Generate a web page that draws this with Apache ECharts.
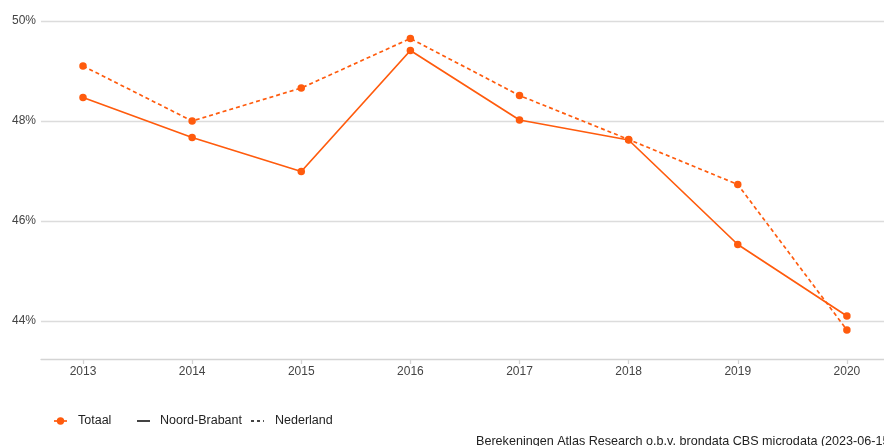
<!DOCTYPE html>
<html>
<head>
<meta charset="utf-8">
<script src="https://cdn.jsdelivr.net/npm/echarts@6/dist/echarts.min.js"></script>
<style>
  html, body { margin: 0; padding: 0; background: #fff; }
  #chart { width: 884px; height: 446px; }
</style>
</head>
<body>
<div id="chart"></div>
<script>
// Share (%) per year, Totaal, for Noord-Brabant and Nederland
const years = [2013, 2014, 2015, 2016, 2017, 2018, 2019, 2020];
const noordBrabant = [48.47, 47.67, 46.99, 49.41, 48.02, 47.62, 45.53, 44.10];
const nederland = [49.10, 48.00, 48.66, 49.65, 48.51, 47.63, 46.73, 43.82];
const yTicks = [44, 46, 48, 50];
const caption = 'Berekeningen Atlas Research o.b.v. brondata CBS microdata (2023-06-15)';

const ORANGE = '#ff5b0d';
const FONT = '"Liberation Sans", Arial, sans-serif';

const pairs = vals => years.map((y, i) => [y, vals[i]]);

const chart = echarts.init(document.getElementById('chart'), null, { renderer: 'canvas' });

chart.setOption({
  animation: false,
  backgroundColor: '#ffffff',
  textStyle: { fontFamily: FONT },
  grid: { left: 41, right: 0, top: 1, bottom: 87, containLabel: false },
  xAxis: {
    type: 'value',
    min: 2012.615,
    max: 2020.34,
    axisLine: { show: true, lineStyle: { color: '#d4d4d4', width: 1.3 } },
    axisTick: { show: true, length: 5, customValues: years, lineStyle: { color: '#d4d4d4', width: 1.3 } },
    axisLabel: { customValues: years, color: '#444', fontSize: 12, fontFamily: FONT, margin: 7, formatter: v => String(v) },
    splitLine: { show: false }
  },
  yAxis: {
    type: 'value',
    min: 43.24,
    max: 50.4,
    axisLine: { show: false },
    axisTick: { show: false, customValues: yTicks },
    axisLabel: { customValues: yTicks, color: '#444', fontSize: 12, fontFamily: FONT, margin: 5, formatter: v => v + '%' },
    splitLine: { show: true, lineStyle: { color: '#dcdcdc', width: 1.3 } }
  },
  series: [
    {
      name: 'Noord-Brabant',
      type: 'line',
      data: pairs(noordBrabant),
      symbol: 'circle',
      symbolSize: 7.5,
      itemStyle: { color: ORANGE },
      lineStyle: { color: ORANGE, width: 1.7, type: 'solid' },
      z: 3
    },
    {
      name: 'Nederland',
      type: 'line',
      data: pairs(nederland),
      symbol: 'circle',
      symbolSize: 7.5,
      itemStyle: { color: ORANGE },
      lineStyle: { color: ORANGE, width: 1.7, type: [4, 3] },
      z: 2
    }
  ],
  graphic: [
    // legend: colour key
    { type: 'line', shape: { x1: 54, y1: 421, x2: 67, y2: 421 }, style: { stroke: ORANGE, lineWidth: 1.7 } },
    { type: 'circle', shape: { cx: 60.5, cy: 421, r: 3.7 }, style: { fill: ORANGE } },
    { type: 'text', left: 78, top: 414, style: { text: 'Totaal', fill: '#222', font: '12.5px ' + FONT } },
    // legend: line type key
    { type: 'line', shape: { x1: 137, y1: 421, x2: 150, y2: 421 }, style: { stroke: '#222', lineWidth: 1.7 } },
    { type: 'text', left: 160, top: 414, style: { text: 'Noord-Brabant', fill: '#222', font: '12.5px ' + FONT } },
    { type: 'line', shape: { x1: 251, y1: 421, x2: 264, y2: 421 }, style: { stroke: '#222', lineWidth: 1.7, lineDash: [3, 3] } },
    { type: 'text', left: 275, top: 414, style: { text: 'Nederland', fill: '#222', font: '12.5px ' + FONT } },
    // source note (runs past the right edge)
    { type: 'text', x: 476, y: 435, style: { text: caption, fill: '#222', font: '12.6px ' + FONT } }
  ]
});
</script>
</body>
</html>
